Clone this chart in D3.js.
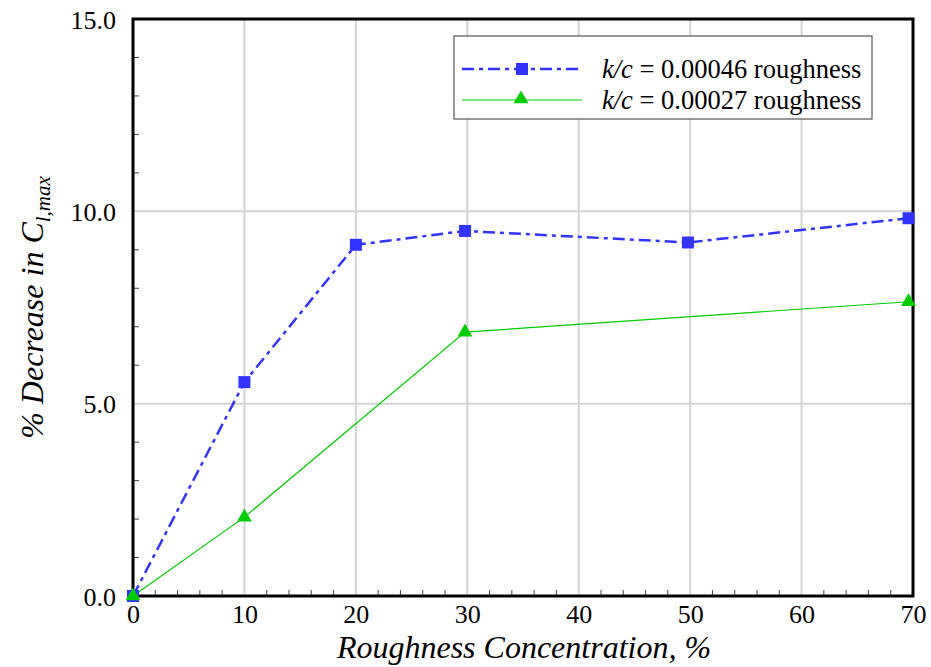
<!DOCTYPE html>
<html>
<head>
<meta charset="utf-8">
<script src="https://cdn.jsdelivr.net/npm/d3@7"></script>
</head>
<body style="margin:0; background:#fff">
<svg id="chart" width="931" height="667" style="display:block" font-family="Times New Roman"></svg>
<script>
// Roughness concentration (%) vs. percent decrease in Cl,max
const roughHighX = [0, 10, 20, 29.8, 49.8, 69.6];
const roughHighY = [0, 5.56, 9.13, 9.49, 9.19, 9.82];
const roughLowX = [0, 10, 29.8, 69.6];
const roughLowY = [0, 2.05, 6.86, 7.65];

const xTicks = [0, 10, 20, 30, 40, 50, 60, 70];
const yTicks = [0, 5, 10, 15];
const seriesLabels = ["0.00046 roughness", "0.00027 roughness"];

const W = 931, H = 667;
const m = { left: 133, right: 18, top: 19, bottom: 71 };
const svg = d3.select("#chart");
const SERIF = '"Times New Roman", "Liberation Serif", serif';

const x = d3.scaleLinear().domain([0, 70]).range([m.left, W - m.right]);
const y = d3.scaleLinear().domain([0, 15]).range([H - m.bottom, m.top]);

// serif label helper
function label(sel, size) {
  return sel.append("text")
    .style("font-family", SERIF)
    .style("font-size", size + "px")
    .attr("fill", "#000");
}

// grid lines at major ticks
const grid = svg.append("g");
grid.selectAll("line.gx").data(xTicks.slice(1, -1)).join("line")
  .attr("x1", d => x(d)).attr("x2", d => x(d))
  .attr("y1", y(0)).attr("y2", y(15))
  .attr("stroke", "#d4d4d4").attr("stroke-width", 2);
grid.selectAll("line.gy").data(yTicks.slice(1, -1)).join("line")
  .attr("y1", d => y(d)).attr("y2", d => y(d))
  .attr("x1", x(0)).attr("x2", x(70))
  .attr("stroke", "#d4d4d4").attr("stroke-width", 2);

// minor ticks (inward)
const minorX = d3.range(2, 70, 2).filter(v => v % 10 !== 0);
const minorY = d3.range(1, 15, 1).filter(v => v % 5 !== 0);
svg.append("g").selectAll("line").data(minorX).join("line")
  .attr("x1", d => x(d)).attr("x2", d => x(d))
  .attr("y1", y(0)).attr("y2", y(0) - 6)
  .attr("stroke", "#444").attr("stroke-width", 1);
svg.append("g").selectAll("line").data(minorY).join("line")
  .attr("y1", d => y(d)).attr("y2", d => y(d))
  .attr("x1", x(0)).attr("x2", x(0) + 6)
  .attr("stroke", "#444").attr("stroke-width", 1);

// axes with labels
const xAxis = svg.append("g").attr("transform", `translate(0,${y(0)})`)
  .call(d3.axisBottom(x).tickValues(xTicks).tickFormat(d3.format("d")).tickSize(0).tickPadding(9));
const yAxis = svg.append("g").attr("transform", `translate(${x(0)},0)`)
  .call(d3.axisLeft(y).tickValues(yTicks).tickFormat(d3.format(".1f")).tickSize(0).tickPadding(17));
[xAxis, yAxis].forEach(a => {
  a.attr("font-family", "Times New Roman").attr("font-size", 26);
  a.select(".domain").remove();
  a.selectAll("text").attr("fill", "#000")
    .style("font-family", SERIF)
    .style("font-size", "26px");
});
yAxis.selectAll("text").attr("dy", "0.35em");
xAxis.selectAll("text").attr("dy", "0.71em");

// frame
svg.append("rect")
  .attr("x", x(0)).attr("y", y(15))
  .attr("width", x(70) - x(0)).attr("height", y(0) - y(15))
  .attr("fill", "none").attr("stroke", "#000").attr("stroke-width", 3);

// axis titles
label(svg, 32)
  .attr("x", (x(0) + x(70)) / 2 + 1).attr("y", 658)
  .attr("text-anchor", "middle").style("font-style", "italic")
  .text("Roughness Concentration, %");

const yt = label(svg, 32)
  .attr("transform", `translate(43,${(y(0) + y(15)) / 2}) rotate(-90)`)
  .attr("text-anchor", "middle").style("font-style", "italic");
yt.append("tspan").text("% Decrease in C");
yt.append("tspan").style("font-size", "21px").attr("dy", 7).text("l,max");

// series
const blue = "#3333ff", green = "#00cc00";
const line = d3.line().x(d => x(d[0])).y(d => y(d[1]));
const high = roughHighX.map((v, i) => [v, roughHighY[i]]);
const low = roughLowX.map((v, i) => [v, roughLowY[i]]);

svg.append("path").datum(low).attr("d", line)
  .attr("fill", "none").attr("stroke", green).attr("stroke-width", 1.2);
svg.append("path").datum(high).attr("d", line)
  .attr("fill", "none").attr("stroke", blue).attr("stroke-width", 2.5)
  .attr("stroke-dasharray", "12,5,4,5");

const sq = 12;
svg.append("g").selectAll("rect").data(high).join("rect")
  .attr("x", d => x(d[0]) - sq / 2).attr("y", d => y(d[1]) - sq / 2)
  .attr("width", sq).attr("height", sq).attr("fill", blue);
const tri = d3.symbol().type(d3.symbolTriangle).size(95);
svg.append("g").selectAll("path").data(low).join("path")
  .attr("transform", d => `translate(${x(d[0])},${y(d[1])})`)
  .attr("d", tri).attr("fill", green);

// legend
const lg = svg.append("g");
lg.append("rect").attr("x", 454).attr("y", 36).attr("width", 418).attr("height", 83)
  .attr("fill", "#fff").attr("stroke", "#555").attr("stroke-width", 1.2);
const rows = [
  { yy: 69, color: blue, w: 2.5, dash: "12,5,4,5", mark: "sq", label: seriesLabels[0] },
  { yy: 100, color: green, w: 1.2, dash: null, mark: "tri", label: seriesLabels[1] }
];
rows.forEach(r => {
  lg.append("line").attr("x1", 462).attr("x2", r.mark === "sq" ? 578 : 582)
    .attr("y1", r.yy).attr("y2", r.yy)
    .attr("stroke", r.color).attr("stroke-width", r.w)
    .attr("stroke-dasharray", r.dash);
  if (r.mark === "sq") {
    lg.append("rect").attr("x", 522 - sq / 2).attr("y", r.yy - sq / 2)
      .attr("width", sq).attr("height", sq).attr("fill", r.color);
  } else {
    lg.append("path").attr("transform", `translate(521,${r.yy - 1})`)
      .attr("d", tri).attr("fill", r.color);
  }
  const t = label(lg, 26.5).attr("x", 602).attr("y", r.yy + 9);
  t.append("tspan").style("font-style", "italic").text("k/c");
  t.append("tspan").text(" = " + r.label);
});
</script>
</body>
</html>
